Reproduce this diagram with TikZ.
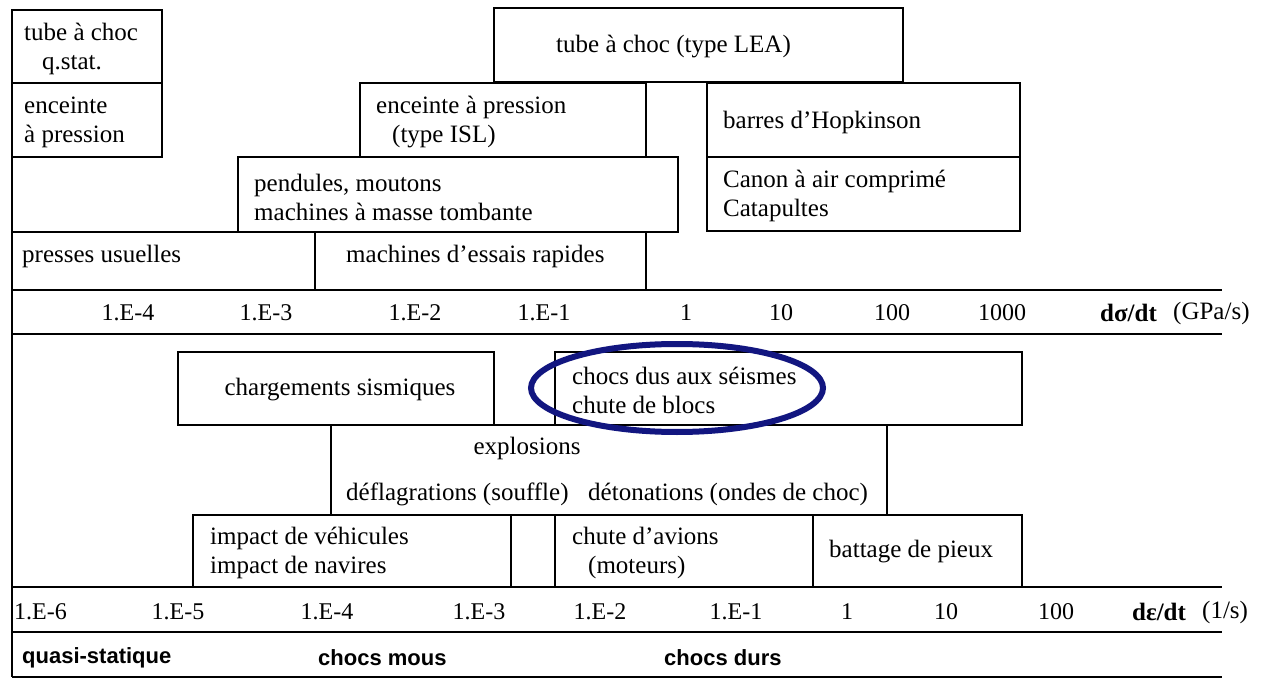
\documentclass[tikz,border=0pt]{standalone}
\usepackage{fontspec}
\setmainfont{Liberation Serif}
\newfontfamily\labsans{Liberation Sans}
\usetikzlibrary{shapes.geometric}
\definecolor{ringblue}{RGB}{18,22,128}
\begin{document}
\begin{tikzpicture}[x=1pt,y=-1pt,
  box/.style={draw=black,line width=2.9pt,line join=miter},
  rule/.style={draw=black,line width=2.9pt},
  lbl/.style={inner sep=0pt,anchor=west,align=left,font=\fontsize{25}{29}\selectfont},
  clbl/.style={inner sep=0pt,anchor=center,font=\fontsize{25}{29}\selectfont},
  ax/.style={inner sep=0pt,anchor=center,font=\fontsize{24}{28}\selectfont},
  axw/.style={inner sep=0pt,anchor=west,font=\fontsize{25}{28}\selectfont},
  cat/.style={inner sep=0pt,anchor=west,font=\labsans\bfseries\fontsize{22}{26}\selectfont},
  ring/.style={draw=ringblue,line width=6pt,ellipse,inner sep=0pt}]
\fill[white] (0,0) rectangle (1270,679);
\useasboundingbox (0,0) rectangle (1270,679);

% ---- upper part (d sigma / dt)
\draw[box] (12,10) rectangle (162,83);
\draw[box] (12,83) rectangle (162,157);
\draw[box] (494,8) rectangle (903,82);
\draw[box] (360,83) rectangle (646,157);
\draw[box] (707,83) rectangle (1020,157);
\draw[box] (707,157) rectangle (1020,231);
\draw[box] (238,157) rectangle (678,232);
\draw[box] (12,232) rectangle (315,290);
\draw[box] (315,232) rectangle (646,290);
\draw[rule] (12,10) -- (12,677);
\draw[rule] (12,290) -- (1222,290);
\draw[rule] (12,334) -- (1222,334);

% ---- lower part (d epsilon / dt)
\draw[box] (178,352) rectangle (494,425);
\draw[box] (555,352) rectangle (1022,425);
\draw[box] (331,425) rectangle (887,515);
\draw[box] (193,515) rectangle (511,587);
\draw[box] (511,515) rectangle (555,587);
\draw[box] (555,515) rectangle (813,587);
\draw[box] (813,515) rectangle (1022,587);
\draw[rule] (12,587) -- (1222,587);
\draw[rule] (12,632) -- (1222,632);
\draw[rule] (12,677) -- (1222,677);

% ---- texts, upper part
\node[lbl] (qs) at (24,49) {tube à choc\\\hspace*{18pt}q.stat.};
\node[lbl] (enc) at (24,122) {enceinte\\à pression};
\node[lbl] (lea) at (556,47) {tube à choc (type LEA)};
\node[lbl] (isl) at (376,122) {enceinte à pression\\\hspace*{16pt}(type ISL)};
\node[lbl] (hop) at (723,122) {barres d'Hopkinson};
\node[lbl] (can) at (723,196) {Canon à air comprimé\\Catapultes};
\node[lbl] (pen) at (254,197) {pendules, moutons\\machines à masse tombante};
\node[lbl] (pre) at (22,256) {presses usuelles};
\node[lbl] (mac) at (346,256) {machines d'essais rapides};

\node[ax] (s1) at (128,313) {1.E-4};
\node[ax] (s2) at (266,313) {1.E-3};
\node[ax] (s3) at (415,313) {1.E-2};
\node[ax] (s4) at (544,313) {1.E-1};
\node[ax] (s5) at (686,313) {1};
\node[ax] (s6) at (781,313) {10};
\node[ax] (s7) at (892,313) {100};
\node[ax] (s8) at (1002,313) {1000};
\node[axw] (su) at (1100,313) {\textbf{dσ/dt}};
\node[axw] (sv) at (1173,313) {(GPa/s)};

% ---- texts, lower part
\node[clbl] (car) at (340,390) {chargements sismiques};
\node[lbl] (chs) at (572,390) {chocs dus aux séismes\\chute de blocs};
\node[clbl] (exp) at (527,448) {explosions};
\node[lbl] (def) at (346,494) {déflagrations (souffle)};
\node[lbl] (det) at (588,494) {détonations (ondes de choc)};
\node[lbl] (imp) at (210,553) {impact de véhicules\\impact de navires};
\node[lbl] (cha) at (572,553) {chute d'avions\\\hspace*{16pt}(moteurs)};
\node[lbl] (bat) at (829,552) {battage de pieux};

\node[ax,anchor=west] (e1) at (14,612) {1.E-6};
\node[ax] (e2) at (178,612) {1.E-5};
\node[ax] (e3) at (327,612) {1.E-4};
\node[ax] (e4) at (479,612) {1.E-3};
\node[ax] (e5) at (600,612) {1.E-2};
\node[ax] (e6) at (736,612) {1.E-1};
\node[ax] (e7) at (847,612) {1};
\node[ax] (e8) at (946,612) {10};
\node[ax] (e9) at (1056,612) {100};
\node[axw] (eu) at (1132,612) {\textbf{dε/dt}};
\node[axw] (ev) at (1202,612) {(1/s)};

\node[cat] (q1) at (22,658) {quasi-statique};
\node[cat] (q2) at (318,658) {chocs mous};
\node[cat] (q3) at (664,658) {chocs durs};

% ---- highlight ring
\node[ring,minimum width=292pt,minimum height=88pt] (ring1) at (677,388) {};
\end{tikzpicture}
\end{document}
